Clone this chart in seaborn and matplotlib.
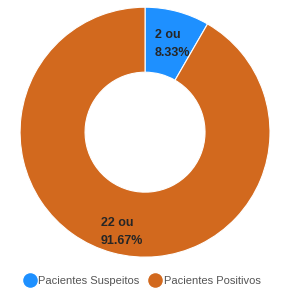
import matplotlib
matplotlib.use("Agg")
import matplotlib.pyplot as plt
import matplotlib.transforms as mtransforms
import seaborn as sns
from matplotlib.lines import Line2D

sns.set_theme(style="white")
plt.rcParams['font.family'] = ['Liberation Sans', 'DejaVu Sans']

categories = ["Pacientes Suspeitos", "Pacientes Positivos"]
counts = [2, 22]
colors = ["#1E90FF", "#D2691E"]

fig = plt.figure(figsize=(2.85, 2.93), dpi=100)
ax = fig.add_axes([0.509 - 0.4386, 0.549 - 0.4266, 0.877, 0.853])

total = sum(counts)
def fmt(p):
    n = int(round(p * total / 100))
    return f"{n} ou\n{p:.2f}%"

wedges, texts, autotexts = ax.pie(
    counts, colors=colors, startangle=90, counterclock=False,
    autopct=fmt, pctdistance=0.78,
    wedgeprops=dict(width=0.52, edgecolor="white", linewidth=0.8),
    textprops=dict(color="#262626", fontsize=9, fontweight="bold"),
)
shift = mtransforms.ScaledTranslation(2 / 100, -6 / 100, fig.dpi_scale_trans)
for t in autotexts:
    t.set_linespacing(1.65)
    t.set_multialignment("left")
    t.set_transform(t.get_transform() + shift)
ax.set_xlim(-1, 1)
ax.set_ylim(-1, 1)
ax.set_aspect("equal")

handles = [Line2D([0], [0], marker="o", color="w", markerfacecolor=c,
                  markersize=11.5, linewidth=0) for c in colors]
fig.legend(handles, categories, loc="center", bbox_to_anchor=(0.5, 0.04),
           ncol=2, frameon=False, fontsize=8, handletextpad=0.3,
           columnspacing=0.9, labelcolor="#555555", handlelength=1.0)

fig.savefig("out.png", dpi=100)
